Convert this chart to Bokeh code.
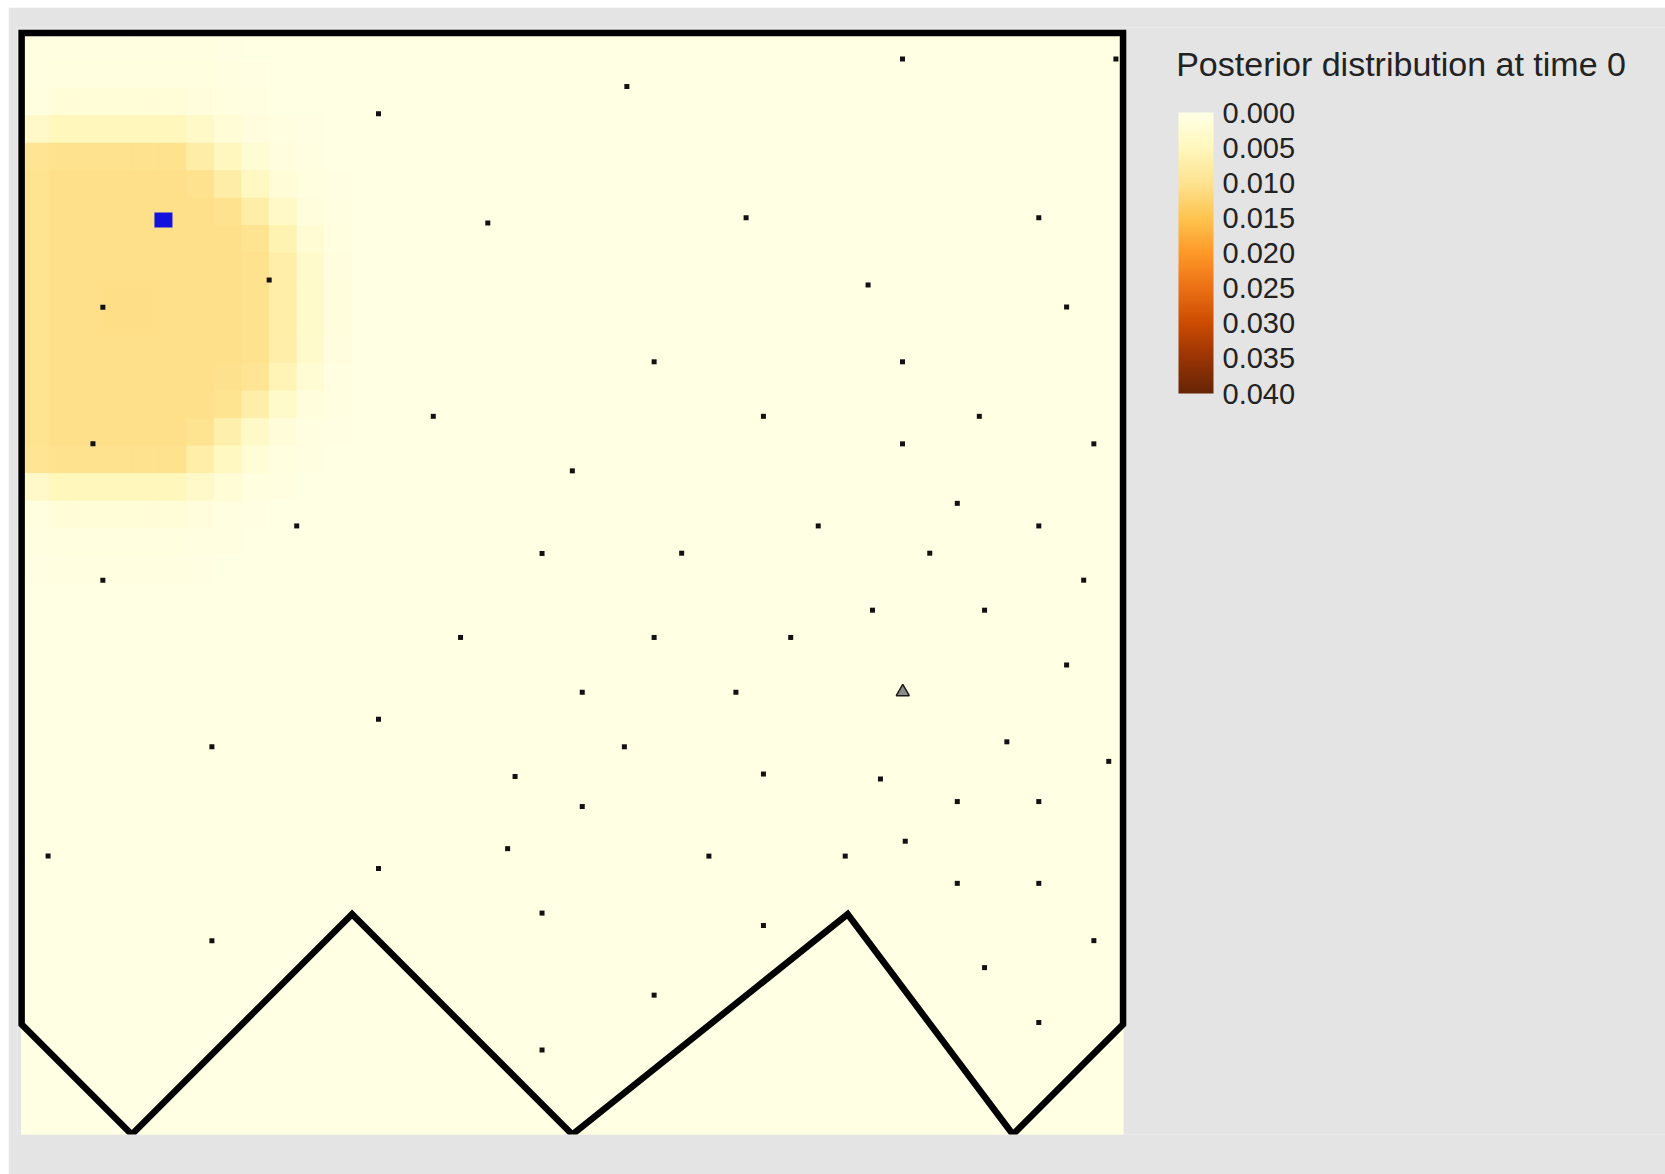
import numpy as np
from bokeh.plotting import figure
from bokeh.models import (LinearColorMapper, ColorBar, FixedTicker,
                          CustomJSTickFormatter, ColumnDataSource, Label)
from bokeh.embed import file_html
from bokeh.resources import INLINE

# ---------------- data ----------------
grid_cols = 40
grid_rows = 40

# search-area boundary polygon (grid units)
boundary_x = [0, 0, 4, 12, 20, 30, 36, 40, 40]
boundary_y = [40, 4, 0, 8, 0, 8, 0, 4, 40]

# sensor locations (small black dots)
sensor_x = [12.96, 16.93, 8.99, 2.95, 14.95, 2.59, 20.0, 9.99, 18.90, 2.95,
            31.99, 39.74, 21.98, 26.31, 36.94, 30.74, 37.95, 22.97, 31.99, 26.94,
            34.78, 31.99, 38.94, 33.98, 28.93, 36.94, 23.97, 32.98, 38.57,
            15.94, 12.96, 6.91, 17.92, 0.96, 17.65, 12.96, 18.90, 6.91, 18.90,
            30.90, 34.97, 22.97, 27.93, 37.95, 20.36, 25.94, 21.89, 35.78, 39.48,
            26.94, 31.19, 20.36, 33.98, 36.94, 32.09, 24.96, 29.91, 33.98, 36.94,
            26.94, 38.94, 34.97, 22.97, 36.94]
sensor_y = [37.07, 33.10, 31.03, 30.04, 26.08, 25.08, 24.10, 22.10, 21.10, 20.13,
            39.06, 39.06, 38.06, 33.29, 33.29, 30.85, 30.05, 28.06, 28.06, 26.08,
            26.08, 25.08, 25.08, 22.92, 22.10, 22.10, 21.11, 21.11, 20.13,
            18.05, 15.08, 14.08, 13.00, 10.11, 10.38, 9.66, 8.04, 7.04, 3.07,
            19.04, 19.04, 18.05, 18.05, 17.05, 16.06, 16.06, 14.08, 14.26, 13.55,
            13.09, 12.91, 11.91, 12.09, 12.09, 10.65, 10.11, 10.11, 9.12, 9.12,
            7.59, 7.04, 6.06, 5.06, 4.07]

# true target (blue square) and detecting sensor (triangle)
target_x = [5.15]
target_y = [33.21]
detector_x = [32.0]
detector_y = [16.07]

# posterior density per grid cell; rows from the top, columns from the left
background_density = 0.0003
blob_rows = [
    [0.0005, 0.0007, 0.0007, 0.0007, 0.0007, 0.0007, 0.0006, 0.0004, 0.0003, 0.0003, 0.0003, 0.0003],
    [0.0006, 0.0009, 0.0009, 0.0009, 0.0009, 0.0009, 0.0008, 0.0005, 0.0004, 0.0003, 0.0003, 0.0003],
    [0.0009, 0.0016, 0.0016, 0.0016, 0.0016, 0.0016, 0.0013, 0.0008, 0.0005, 0.0003, 0.0003, 0.0003],
    [0.0035, 0.0050, 0.0050, 0.0050, 0.0050, 0.0050, 0.0036, 0.0020, 0.0010, 0.0005, 0.0004, 0.0003],
    [0.0098, 0.0102, 0.0102, 0.0102, 0.0102, 0.0102, 0.0076, 0.0048, 0.0022, 0.0010, 0.0005, 0.0003],
    [0.0100, 0.0105, 0.0105, 0.0105, 0.0105, 0.0105, 0.0102, 0.0076, 0.0046, 0.0018, 0.0008, 0.0004],
    [0.0100, 0.0105, 0.0105, 0.0105, 0.0105, 0.0105, 0.0105, 0.0102, 0.0074, 0.0036, 0.0014, 0.0005],
    [0.0100, 0.0105, 0.0105, 0.0105, 0.0105, 0.0105, 0.0105, 0.0105, 0.0100, 0.0062, 0.0024, 0.0008],
    [0.0100, 0.0105, 0.0106, 0.0106, 0.0106, 0.0106, 0.0105, 0.0105, 0.0102, 0.0072, 0.0032, 0.0010],
    [0.0100, 0.0105, 0.0106, 0.0107, 0.0107, 0.0106, 0.0105, 0.0105, 0.0102, 0.0074, 0.0034, 0.0011],
    [0.0100, 0.0105, 0.0106, 0.0107, 0.0107, 0.0106, 0.0105, 0.0105, 0.0102, 0.0074, 0.0034, 0.0011],
    [0.0100, 0.0105, 0.0106, 0.0106, 0.0106, 0.0106, 0.0105, 0.0105, 0.0102, 0.0072, 0.0032, 0.0010],
    [0.0100, 0.0105, 0.0105, 0.0105, 0.0105, 0.0105, 0.0105, 0.0104, 0.0096, 0.0058, 0.0022, 0.0007],
    [0.0100, 0.0105, 0.0105, 0.0105, 0.0105, 0.0105, 0.0105, 0.0100, 0.0072, 0.0034, 0.0012, 0.0005],
    [0.0100, 0.0105, 0.0105, 0.0105, 0.0105, 0.0105, 0.0100, 0.0070, 0.0036, 0.0015, 0.0007, 0.0004],
    [0.0098, 0.0102, 0.0102, 0.0102, 0.0102, 0.0102, 0.0074, 0.0046, 0.0020, 0.0009, 0.0005, 0.0003],
    [0.0035, 0.0050, 0.0050, 0.0050, 0.0050, 0.0050, 0.0035, 0.0020, 0.0009, 0.0005, 0.0003, 0.0003],
    [0.0009, 0.0016, 0.0016, 0.0016, 0.0016, 0.0016, 0.0012, 0.0007, 0.0004, 0.0003, 0.0003, 0.0003],
    [0.0006, 0.0009, 0.0009, 0.0009, 0.0009, 0.0009, 0.0007, 0.0005, 0.0003, 0.0003, 0.0003, 0.0003],
    [0.0004, 0.0005, 0.0005, 0.0005, 0.0005, 0.0005, 0.0004, 0.0003, 0.0003, 0.0003, 0.0003, 0.0003],
]

colorbar_ticks = [0.000, 0.005, 0.010, 0.015, 0.020, 0.025, 0.030, 0.035, 0.040]
density_max = 0.040
title_text = "Posterior distribution at time 0"

# ---------------- styling ----------------
ylorbr = ["#ffffe5", "#fff7bc", "#fee391", "#fec44f", "#fe9929",
          "#ec7014", "#cc4c02", "#993404", "#662506"]


def _rgb(h):
    return [int(h[i:i + 2], 16) for i in (1, 3, 5)]


palette = []
for i in range(256):
    t = i / 255 * (len(ylorbr) - 1)
    k = min(int(t), len(ylorbr) - 2)
    f = t - k
    a, b = _rgb(ylorbr[k]), _rgb(ylorbr[k + 1])
    c = [round(a[j] + (b[j] - a[j]) * f) for j in range(3)]
    palette.append("#%02x%02x%02x" % tuple(c))

# ---------------- build cell table ----------------
vals = np.full((grid_rows, grid_cols), background_density)
for r, row in enumerate(blob_rows):
    vals[r, :len(row)] = row

cx, cy, cv = [], [], []
for r in range(grid_rows):
    for c in range(grid_cols):
        cx.append(c + 0.5)
        cy.append(grid_rows - r - 0.5)
        cv.append(float(vals[r, c]))
cells = ColumnDataSource(dict(x=cx, y=cy, v=cv))

mapper = LinearColorMapper(palette=palette, low=0, high=density_max)

# frame: 1648 x 1107 px, 27.54 px per grid unit in both directions
p = figure(width=1657, height=1167,
           x_range=(-0.15, 59.70), y_range=(0, 40.2),
           x_axis_type=None, y_axis_type=None,
           toolbar_location=None, output_backend="svg",
           min_border_left=9, min_border_right=0,
           min_border_top=20, min_border_bottom=40,
           background_fill_color="#e4e4e4", border_fill_color="#e4e4e4",
           outline_line_color=None)
p.styles = {"margin-left": "8px", "margin-top": "7px"}
p.grid.visible = False

p.rect(x="x", y="y", width=1, height=1, source=cells,
       fill_color={"field": "v", "transform": mapper},
       line_color={"field": "v", "transform": mapper}, line_width=1)

p.patch(boundary_x, boundary_y, fill_color=None, line_color="black",
        line_width=6.5, line_join="miter")

p.scatter(sensor_x, sensor_y, marker="square", size=5,
          fill_color="#111111", line_color=None)

p.rect(target_x, target_y, width=18, height=15,
       width_units="screen", height_units="screen",
       fill_color="#1212dc", line_color=None)

p.scatter(detector_x, detector_y, marker="triangle", size=13,
          fill_color="#8c8c8c", line_color="#1a1a1a", line_width=1.5)

# colour bar (values increase downwards as in the original)
bar_mapper = LinearColorMapper(palette=palette[::-1], low=0, high=density_max)
cb = ColorBar(color_mapper=bar_mapper,
              ticker=FixedTicker(ticks=colorbar_ticks),
              formatter=CustomJSTickFormatter(args=dict(m=density_max),
                                              code="return (m - tick).toFixed(3);"),
              width=35, height=281, location=(1161, 741),
              padding=0, margin=0, label_standoff=9,
              major_tick_line_color=None, minor_tick_line_color=None,
              major_label_text_font="Liberation Sans",
              major_label_text_font_size="29px",
              major_label_text_color="#222222",
              bar_line_color=None, border_line_color=None,
              background_fill_alpha=0)
p.add_layout(cb)

p.add_layout(Label(x=41.93, y=38.88, text=title_text,
                   text_font="Liberation Sans", text_font_size="34px",
                   text_color="#222222", text_baseline="alphabetic"))

open("out.html", "w").write(file_html(p, INLINE))
